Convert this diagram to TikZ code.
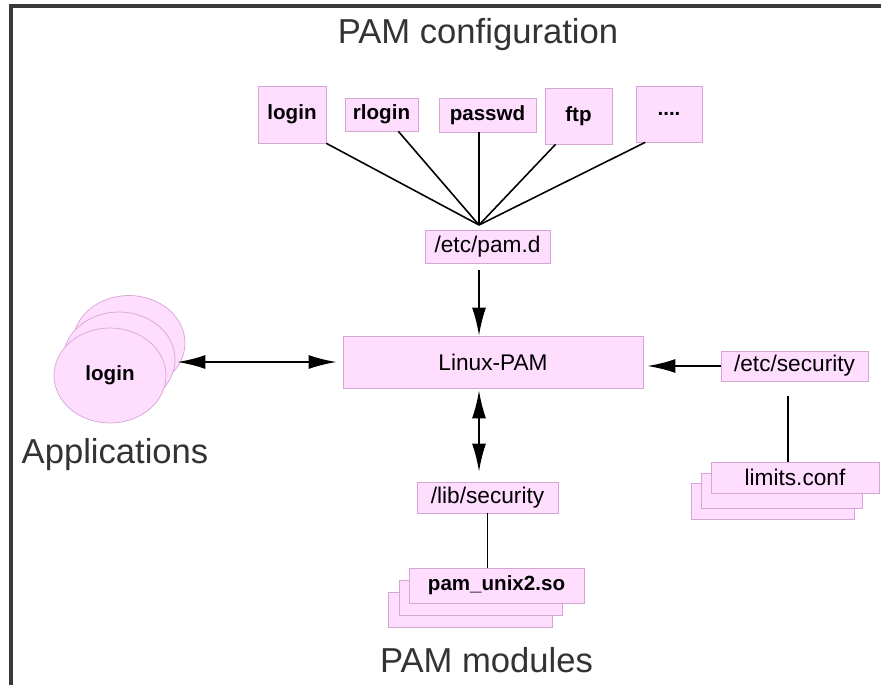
\documentclass[tikz,border=0pt]{standalone}
\usepackage{fontspec}
\setmainfont{Liberation Sans}
\usetikzlibrary{arrows.meta,shapes.geometric,calc}

\definecolor{pampink}{RGB}{255,221,255}
\definecolor{pamedge}{RGB}{212,166,212}
\definecolor{framegray}{RGB}{58,58,58}

\tikzset{
    pamtip/.tip={Latex[length=16pt,width=8pt]},
    file/.style={draw=pamedge, fill=pampink, inner sep=0pt, font=\fontsize{12.9}{14}\selectfont},
    cfgfile/.style={file, font=\fontsize{11.7}{13}\selectfont\bfseries},
    sheet/.style={draw=pamedge, fill=pampink},
    app/.style={ellipse, draw=pamedge, fill=pampink, inner sep=0pt, minimum width=2.24cm, minimum height=1.9cm},
    flow/.style={line width=1.1pt},
    caption/.style={text=black!80, font=\fontsize{19.7}{22}\selectfont},
}

\begin{document}
\begin{tikzpicture}
    \useasboundingbox (0,0) rectangle (17.62,13.70);
    % Frame (left and top edge only)
    \draw[framegray, line width=2pt] (0.22,0) -- (0.22,13.58) -- (17.62,13.58);

    % Captions
    \node[caption] (cfgtitle) at (9.56,13.0) {PAM configuration};
    \node[caption] (apptitle) at (2.30,4.60) {Applications};
    \node[caption] (modtitle) at (9.73,0.50) {PAM modules};

    % Service files in /etc/pam.d
    \node[cfgfile, minimum width=1.36cm, minimum height=1.14cm] (login)  at (5.84,11.41) {login};
    \node[cfgfile, minimum width=1.46cm, minimum height=0.66cm] (rlogin) at (7.63,11.41) {rlogin};
    \node[cfgfile, minimum width=1.94cm, minimum height=0.68cm] (passwd) at (9.75,11.40) {passwd};
    \node[cfgfile, minimum width=1.34cm, minimum height=1.12cm] (ftp)    at (11.57,11.38) {ftp};
    \node[cfgfile, minimum width=1.32cm, minimum height=1.12cm] (more)   at (13.38,11.42) {....};
    \coordinate (hub) at (9.58,9.20);

    \draw[line width=0.9pt] (login.south east) -- (hub);
    \draw[line width=0.9pt] (rlogin.-45) -- (hub);
    \draw[line width=0.9pt] (passwd.south -| hub) -- (hub);
    \draw[line width=0.9pt] (ftp.-129) -- (hub);
    \draw[line width=0.9pt] (more.-130) -- (hub);

    \node[file, minimum width=2.5cm, minimum height=0.66cm] (pamd) at (9.75,8.77) {/etc/pam.d};

    % Library in the middle
    \node[file, minimum width=6.0cm, minimum height=1.04cm] (linuxpam) at (9.86,6.46) {Linux-PAM};
    \draw[flow, -pamtip] ([yshift=-0.14cm]pamd.south -| hub) -- (hub |- linuxpam.north);

    % Applications
    \node[app] (appback) at (2.58,6.84) {};
    \node[app] (appmid)  at (2.38,6.51) {};
    \node[app, font=\fontsize{11.7}{13}\selectfont\bfseries] (apps) at (2.20,6.19) {login};
    \draw[flow, pamtip-pamtip] ([xshift=0.04cm]appmid.east |- linuxpam.west) -- ([xshift=-0.12cm]linuxpam.west);

    % Modules
    \node[file, minimum width=2.82cm, minimum height=0.62cm] (libsec) at (9.75,3.75) {/lib/security};
    \draw[flow, pamtip-pamtip] ([yshift=-0.04cm]linuxpam.south -| hub) -- ([yshift=0.2cm]libsec.north -| hub);
    \draw[sheet] (7.76,1.16) rectangle (11.04,1.86);
    \draw[sheet] (7.98,1.40) rectangle (11.24,2.10);
    \node[cfgfile, minimum width=3.5cm, minimum height=0.70cm] (pamunix) at (9.93,1.99) {pam\_unix2.so};
    \draw[flow] (libsec.south) -- (libsec.south |- pamunix.north);

    % Security settings
    \node[file, minimum width=2.94cm, minimum height=0.60cm] (secdir) at (15.89,6.38) {/etc/security};
    \draw[flow, -pamtip] (secdir.west) -- ([xshift=0.08cm]linuxpam.east |- secdir.west);
    \draw[sheet] (13.82,3.32) rectangle (17.08,4.04);
    \draw[sheet] (14.02,3.54) rectangle (17.24,4.24);
    \node[file, minimum width=3.36cm, minimum height=0.62cm] (limits) at (15.90,4.15) {limits.conf};
    \draw[flow] ([yshift=-0.3cm]secdir.south -| 15.76,0) -- (15.76,0 |- limits.north);
\end{tikzpicture}
\end{document}
